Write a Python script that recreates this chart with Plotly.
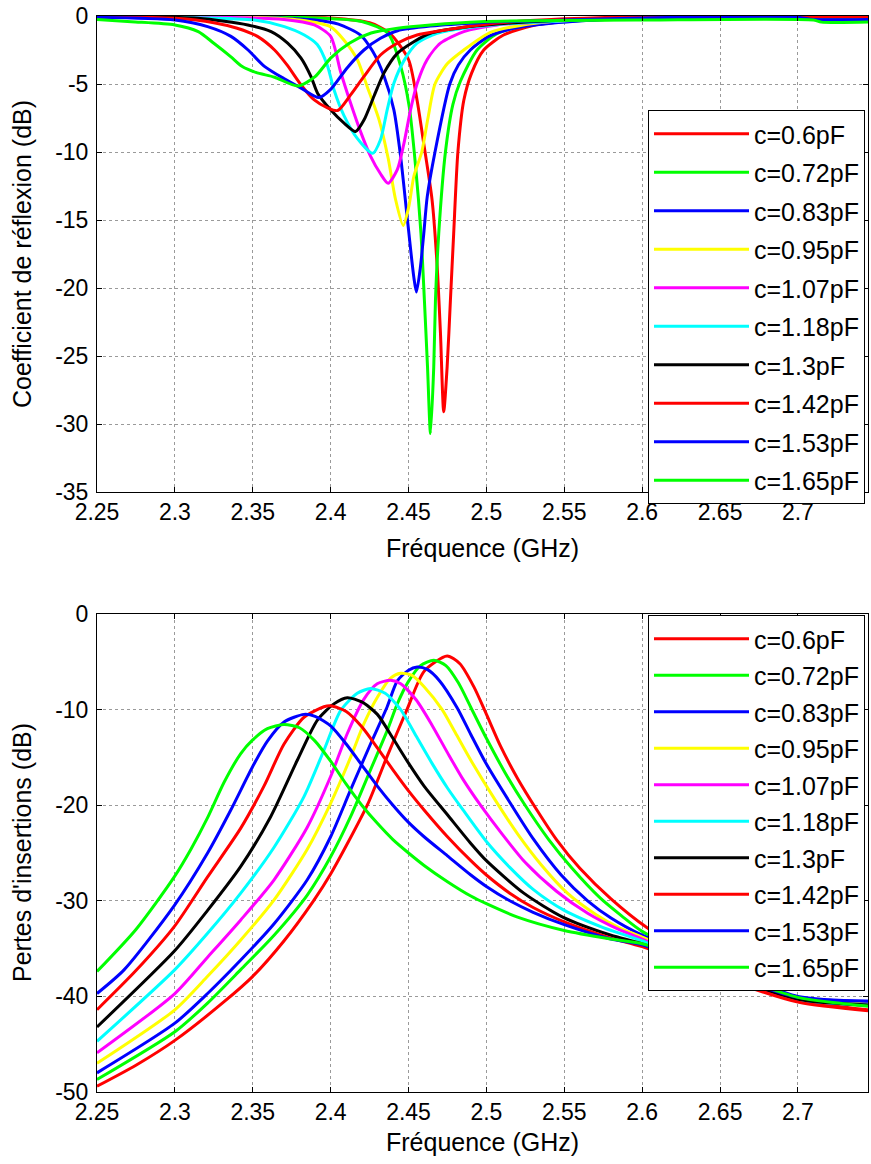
import plotly.graph_objects as go

# ---------------- labels / colours ----------------
labels = ["c=0.6pF", "c=0.72pF", "c=0.83pF", "c=0.95pF", "c=1.07pF",
          "c=1.18pF", "c=1.3pF", "c=1.42pF", "c=1.53pF", "c=1.65pF"]
colors = ["#ff0000", "#00ff00", "#0000ff", "#ffff00", "#ff00ff",
          "#00ffff", "#000000", "#ff0000", "#0000ff", "#00ff00"]

x_tickvals = [2.25, 2.3, 2.35, 2.4, 2.45, 2.5, 2.55, 2.6, 2.65, 2.7]
x_ticktext = ["2.25", "2.3", "2.35", "2.4", "2.45", "2.5", "2.55", "2.6", "2.65", "2.7"]
y1_tickvals = [-35, -30, -25, -20, -15, -10, -5, 0]
y1_ticktext = ["-35", "-30", "-25", "-20", "-15", "-10", "-5", "0"]
y2_tickvals = [-50, -40, -30, -20, -10, 0]
y2_ticktext = ["-50", "-40", "-30", "-20", "-10", "0"]

# ---------------- reflection coefficient S11 (dB) ----------------
s11_f_060 = [2.25, 2.35, 2.40, 2.425, 2.438, 2.45, 2.4555, 2.4598, 2.4651, 2.4684, 2.4705, 2.4726,
             2.4748, 2.4769, 2.479, 2.4817, 2.4855, 2.4905, 2.4983, 2.511, 2.53, 2.56, 2.6, 2.745]
s11_db_060 = [-0.02, -0.05, -0.15, -0.5, -1.27, -3.2, -6.2, -9.4, -13.5, -18.4, -23.3, -29.1,
              -25.8, -20.9, -16.0, -10.0, -6.2, -4.2, -2.5, -1.4, -0.7, -0.3, -0.05, -0.05]

s11_f_072 = [2.25, 2.38, 2.42, 2.437, 2.445, 2.4505, 2.4545, 2.458, 2.4602, 2.4622, 2.4641, 2.4662,
             2.4673, 2.4694, 2.4737, 2.4785, 2.4833, 2.494, 2.5068, 2.525, 2.56, 2.6, 2.745]
s11_db_072 = [-0.05, -0.1, -0.4, -1.3, -3.7, -6.7, -11.0, -16.0, -20.9, -25.8, -30.7, -25.8,
              -20.9, -16.0, -10.0, -6.5, -4.8, -2.5, -1.3, -0.7, -0.35, -0.2, -0.1]

s11_f_083 = [2.25, 2.35, 2.39, 2.405, 2.4192, 2.427, 2.4342, 2.4406, 2.4449, 2.4491, 2.4534, 2.4551,
             2.4577, 2.4598, 2.462, 2.467, 2.4765, 2.482, 2.4897, 2.5015, 2.5175, 2.54, 2.57, 2.62, 2.745]
s11_db_083 = [-0.02, -0.1, -0.3, -0.6, -1.4, -2.6, -4.4, -6.9, -10.3, -14.75, -19.2, -20.3,
              -18.4, -16.0, -13.3, -10.0, -5.0, -3.6, -2.5, -1.5, -0.9, -0.55, -0.3, -0.1, -0.05]

s11_f_095 = [2.25, 2.35, 2.38, 2.40, 2.4085, 2.4171, 2.4235, 2.431, 2.437, 2.4415, 2.4466, 2.4502,
             2.4534, 2.4585, 2.4625, 2.467, 2.475, 2.4855, 2.5026, 2.53, 2.56, 2.6, 2.745]
s11_db_095 = [-0.05, -0.1, -0.3, -0.8, -1.76, -3.2, -5.2, -7.6, -10.5, -13.4, -15.4, -14.0,
              -11.8, -10.0, -7.5, -5.0, -3.5, -2.5, -1.2, -0.55, -0.25, -0.1, -0.05]

s11_f_107 = [2.25, 2.37, 2.3895, 2.40, 2.4064, 2.4128, 2.4192, 2.4256, 2.432, 2.4369, 2.4428, 2.447,
             2.4513, 2.4556, 2.462, 2.4705, 2.4855, 2.507, 2.528, 2.56, 2.6, 2.745]
s11_db_107 = [-0.02, -0.25, -0.66, -1.5, -4.1, -6.4, -8.5, -10.3, -11.6, -12.3, -11.3, -9.4,
              -6.9, -4.95, -3.2, -2.0, -1.15, -0.66, -0.49, -0.3, -0.1, -0.05]

s11_f_118 = [2.25, 2.351, 2.3703, 2.3831, 2.3914, 2.3978, 2.4021, 2.4085, 2.4171, 2.4270, 2.432,
             2.4363, 2.4406, 2.447, 2.4555, 2.4684, 2.4855, 2.507, 2.528, 2.56, 2.6, 2.745]
s11_db_118 = [-0.05, -0.3, -0.78, -1.4, -2.1, -3.6, -5.4, -7.3, -9.0, -10.1, -9.1,
              -6.9, -4.95, -3.3, -2.0, -1.27, -0.9, -0.62, -0.47, -0.3, -0.1, -0.05]

s11_f_130 = [2.25, 2.3147, 2.3468, 2.3618, 2.3724, 2.381, 2.3874, 2.3917, 2.40, 2.4088, 2.416, 2.4214,
             2.4278, 2.4342, 2.4428, 2.4534, 2.464, 2.4855, 2.5069, 2.528, 2.56, 2.6, 2.745]
s11_db_130 = [-0.05, -0.17, -0.66, -1.15, -2.0, -3.1, -4.46, -5.7, -6.9, -7.9, -8.5, -7.65,
              -5.9, -4.2, -2.75, -1.89, -1.27, -0.83, -0.59, -0.42, -0.25, -0.1, -0.05]

s11_f_142 = [2.25, 2.30, 2.325, 2.34, 2.353, 2.364, 2.372, 2.381, 2.3895, 2.398, 2.4045, 2.4128,
             2.4213, 2.432, 2.4428, 2.4555, 2.4705, 2.496, 2.528, 2.6, 2.745]
s11_db_142 = [-0.05, -0.17, -0.49, -0.9, -1.5, -2.5, -3.6, -5.07, -6.17, -6.75, -6.95, -5.8,
              -4.46, -2.87, -2.0, -1.4, -1.08, -0.66, -0.34, -0.05, -0.05]

s11_f_153 = [2.25, 2.30, 2.321, 2.336, 2.347, 2.3575, 2.37, 2.381, 2.3925, 2.40, 2.4107, 2.4214,
             2.432, 2.443, 2.464, 2.496, 2.55, 2.62, 2.70, 2.71, 2.745]
s11_db_153 = [-0.1, -0.3, -0.78, -1.5, -2.5, -3.7, -4.6, -5.3, -6.0, -5.4, -3.8, -2.5,
              -1.64, -1.08, -0.74, -0.49, -0.3, -0.1, -0.1, -0.25, -0.25]

s11_f_165 = [2.25, 2.272, 2.30, 2.315, 2.325, 2.336, 2.343, 2.352, 2.364, 2.379, 2.39, 2.40,
             2.412, 2.426, 2.443, 2.464, 2.496, 2.60, 2.71, 2.715, 2.745]
s11_db_165 = [-0.25, -0.42, -0.66, -1.15, -2.0, -3.0, -3.7, -4.15, -4.5, -5.15, -4.46, -3.1,
              -2.0, -1.25, -0.9, -0.66, -0.42, -0.3, -0.3, -0.45, -0.45]

# ---------------- insertion loss S21 (dB) ----------------
s21_f_060 = [2.25, 2.275, 2.30, 2.332, 2.35, 2.37, 2.389, 2.40, 2.4235, 2.436, 2.449, 2.46, 2.4748,
             2.483, 2.4919, 2.4995, 2.509, 2.52, 2.532, 2.545, 2.56, 2.58, 2.603, 2.65, 2.70, 2.745]
s21_db_060 = [-49.4, -47.2, -44.6, -40.5, -37.9, -34.2, -30.0, -27.2, -20.0, -15.0, -10.0, -6.0, -4.4,
              -5.2, -7.6, -10.3, -13.8, -17.2, -20.4, -23.6, -26.6, -29.8, -32.8, -37.5, -40.4, -41.4]

s21_f_072 = [2.25, 2.30, 2.321, 2.3423, 2.3637, 2.385, 2.40, 2.4128, 2.4256, 2.4363, 2.4428, 2.4498,
             2.4577, 2.4662, 2.474, 2.482, 2.4898, 2.50, 2.512, 2.524, 2.54, 2.555, 2.573, 2.587,
             2.60, 2.65, 2.70, 2.745]
s21_db_072 = [-48.7, -43.7, -40.7, -37.2, -33.6, -29.4, -25.4, -21.2, -16.3, -12.2, -9.4, -7.1,
              -5.4, -4.85, -5.4, -7.2, -9.7, -13.0, -16.6, -19.8, -23.6, -26.6, -29.7, -31.6,
              -33.2, -37.3, -40.2, -41.0]

s21_f_083 = [2.25, 2.30, 2.321, 2.3423, 2.3637, 2.385, 2.40, 2.4128, 2.4256, 2.4363, 2.4428, 2.4498,
             2.4556, 2.462, 2.47, 2.4812, 2.49, 2.50, 2.5154, 2.53, 2.548, 2.565, 2.58, 2.60,
             2.65, 2.70, 2.745]
s21_db_083 = [-48.0, -42.8, -39.7, -36.2, -32.4, -27.8, -23.3, -18.4, -13.6, -9.7, -7.0, -5.9,
              -5.55, -5.8, -7.0, -9.8, -12.6, -15.7, -19.8, -23.5, -27.3, -30.0, -31.8, -33.6,
              -37.0, -40.0, -40.5]

s21_f_095 = [2.25, 2.30, 2.321, 2.3423, 2.3637, 2.385, 2.40, 2.4128, 2.4213, 2.43, 2.4385, 2.4449,
             2.452, 2.46, 2.4716, 2.48, 2.49, 2.5058, 2.52, 2.535, 2.552, 2.57, 2.585, 2.60,
             2.65, 2.70, 2.745]
s21_db_095 = [-47.0, -41.4, -37.9, -34.1, -29.9, -24.6, -19.8, -15.0, -11.5, -8.7, -6.7, -6.2,
              -6.4, -7.6, -10.0, -12.4, -15.3, -19.5, -23.0, -26.2, -29.2, -31.4, -32.8, -33.8,
              -37.3, -40.2, -40.8]

s21_f_107 = [2.25, 2.30, 2.321, 2.3423, 2.3637, 2.385, 2.40, 2.4107, 2.4214, 2.4299, 2.4385, 2.445,
             2.455, 2.465, 2.475, 2.485, 2.4962, 2.51, 2.525, 2.545, 2.565, 2.585, 2.60,
             2.65, 2.70, 2.745]
s21_db_107 = [-45.9, -39.7, -35.9, -32.0, -27.8, -22.3, -17.0, -12.5, -8.9, -7.3, -6.94, -7.3,
              -9.0, -11.6, -14.5, -17.3, -20.0, -23.0, -26.0, -29.0, -31.3, -33.0, -34.0,
              -37.5, -40.3, -40.9]

s21_f_118 = [2.25, 2.30, 2.321, 2.3423, 2.3637, 2.3829, 2.3957, 2.4064, 2.4171, 2.4256, 2.435, 2.445,
             2.455, 2.465, 2.475, 2.485, 2.50, 2.515, 2.53, 2.55, 2.575, 2.60,
             2.65, 2.70, 2.745]
s21_db_118 = [-44.7, -37.2, -33.4, -29.2, -24.4, -19.1, -14.25, -10.1, -8.3, -7.8, -8.3, -10.0,
              -12.8, -15.6, -18.2, -20.5, -23.8, -26.5, -28.8, -31.0, -32.8, -34.2,
              -37.5, -40.3, -40.9]

s21_f_130 = [2.25, 2.30, 2.321, 2.3423, 2.3615, 2.3786, 2.3915, 2.4021, 2.4107, 2.42, 2.43, 2.44,
             2.45, 2.46, 2.475, 2.49, 2.50, 2.524, 2.549, 2.58, 2.60, 2.65, 2.70, 2.745]
s21_db_130 = [-43.2, -35.2, -31.0, -26.4, -21.2, -15.3, -11.1, -9.4, -8.75, -9.2, -10.5, -13.0,
              -15.6, -18.0, -21.0, -24.0, -25.8, -29.2, -31.7, -33.6, -34.5, -37.6, -40.3, -40.9]

s21_f_142 = [2.25, 2.275, 2.2996, 2.321, 2.3423, 2.3572, 2.3701, 2.3829, 2.3957, 2.40, 2.41, 2.42,
             2.43, 2.44, 2.45, 2.46, 2.475, 2.49, 2.50, 2.515, 2.53, 2.55, 2.58, 2.60,
             2.65, 2.70, 2.745]
s21_db_142 = [-41.4, -37.3, -32.7, -27.5, -22.4, -18.0, -13.6, -10.8, -9.7, -9.6, -10.2, -11.8,
              -14.0, -16.3, -18.5, -20.5, -23.3, -25.8, -27.3, -29.2, -30.7, -32.2, -33.9, -34.8,
              -38.0, -40.6, -41.5]

s21_f_153 = [2.25, 2.2675, 2.2996, 2.321, 2.3359, 2.3498, 2.3594, 2.3701, 2.3829, 2.39, 2.40, 2.41,
             2.42, 2.43, 2.44, 2.45, 2.46, 2.475, 2.49, 2.50, 2.515, 2.53, 2.55, 2.58, 2.60,
             2.65, 2.70, 2.745]
s21_db_153 = [-39.7, -37.2, -30.5, -25.0, -20.5, -16.0, -13.3, -11.3, -10.5, -10.7, -11.7, -13.6,
              -15.8, -18.0, -20.0, -21.8, -23.3, -25.3, -27.3, -28.5, -30.0, -31.2, -32.5, -34.0, -34.6,
              -37.5, -40.1, -40.5]

s21_f_165 = [2.25, 2.275, 2.2996, 2.3103, 2.321, 2.3316, 2.3423, 2.3498, 2.3594, 2.3701, 2.38, 2.39,
             2.40, 2.41, 2.42, 2.43, 2.44, 2.45, 2.46, 2.475, 2.49, 2.50, 2.52, 2.55, 2.58, 2.60,
             2.65, 2.70, 2.745]
s21_db_165 = [-37.4, -33.0, -27.5, -24.6, -21.3, -17.6, -14.6, -13.2, -12.0, -11.57, -11.9, -13.3,
              -15.4, -17.8, -20.0, -21.9, -23.6, -25.0, -26.3, -28.0, -29.5, -30.3, -31.7, -33.1, -34.0, -34.5,
              -37.3, -40.1, -41.0]

s11_f = [s11_f_060, s11_f_072, s11_f_083, s11_f_095, s11_f_107, s11_f_118, s11_f_130, s11_f_142, s11_f_153, s11_f_165]
s11_db = [s11_db_060, s11_db_072, s11_db_083, s11_db_095, s11_db_107, s11_db_118, s11_db_130, s11_db_142, s11_db_153, s11_db_165]
s21_f = [s21_f_060, s21_f_072, s21_f_083, s21_f_095, s21_f_107, s21_f_118, s21_f_130, s21_f_142, s21_f_153, s21_f_165]
s21_db = [s21_db_060, s21_db_072, s21_db_083, s21_db_095, s21_db_107, s21_db_118, s21_db_130, s21_db_142, s21_db_153, s21_db_165]

FONT = "Liberation Sans, Arial, Helvetica, sans-serif"
W, H = 871, 1164


def px(x):
    return x / W


def py(y):
    return 1 - y / H


fig = go.Figure()
for i in range(10):
    fig.add_trace(go.Scatter(
        x=s11_f[i], y=s11_db[i], mode="lines", name=labels[i],
        line=dict(color=colors[i], width=3, shape="spline", smoothing=0.7),
        xaxis="x", yaxis="y", legend="legend", legendgroup="a%d" % i))
for i in range(10):
    fig.add_trace(go.Scatter(
        x=s21_f[i], y=s21_db[i], mode="lines", name=labels[i],
        line=dict(color=colors[i], width=3, shape="spline", smoothing=0.7),
        xaxis="x2", yaxis="y2", legend="legend2", legendgroup="b%d" % i))

xdom = [px(97), px(868)]
y1dom = [py(492), py(16)]
y2dom = [py(1092), py(614)]

axis_common = dict(
    showline=True, linecolor="black", linewidth=1, mirror="ticks",
    ticks="inside", ticklen=5, tickcolor="black", automargin=False,
    showgrid=True, gridcolor="#9a9a9a", griddash="dot", gridwidth=1,
    zeroline=False, tickfont=dict(family=FONT, size=23, color="black"),
)

fig.update_layout(
    width=W, height=H, margin=dict(l=0, r=0, t=0, b=0, autoexpand=False),
    paper_bgcolor="white", plot_bgcolor="white",
    font=dict(family=FONT, color="black"),
    xaxis=dict(domain=xdom, anchor="y", range=[2.25, 2.745], ticklabelstandoff=-1,
               tickvals=x_tickvals, ticktext=x_ticktext, **axis_common),
    yaxis=dict(domain=y1dom, anchor="x", range=[-35, 0], ticklabelstandoff=3,
               tickvals=y1_tickvals, ticktext=y1_ticktext, **axis_common),
    xaxis2=dict(domain=xdom, anchor="y2", range=[2.25, 2.745], ticklabelstandoff=-1,
                tickvals=x_tickvals, ticktext=x_ticktext, **axis_common),
    yaxis2=dict(domain=y2dom, anchor="x2", range=[-50, 0], ticklabelstandoff=3,
                tickvals=y2_tickvals, ticktext=y2_ticktext, **axis_common),
    legend=dict(x=px(648), y=py(110), xanchor="left", yanchor="top",
                bgcolor="white", bordercolor="black", borderwidth=1,
                font=dict(family=FONT, size=25, color="black"),
                itemwidth=95, tracegroupgap=3, traceorder="grouped"),
    legend2=dict(x=px(648), y=py(615), xanchor="left", yanchor="top",
                 bgcolor="white", bordercolor="black", borderwidth=1,
                 font=dict(family=FONT, size=25, color="black"),
                 itemwidth=95, tracegroupgap=1, traceorder="grouped"),
    showlegend=True,
)

title_font = dict(family=FONT, size=25, color="black")
ann = dict(xref="paper", yref="paper", showarrow=False, xanchor="center", yanchor="middle",
           font=title_font)
fig.add_annotation(text="Coefficient de réflexion (dB)", x=px(22), y=py(254), textangle=-90, **ann)
fig.add_annotation(text="Pertes d'insertions (dB)", x=px(22), y=py(853), textangle=-90, **ann)
fig.add_annotation(text="Fréquence (GHz)", x=px(482), y=py(548), **ann)
fig.add_annotation(text="Fréquence (GHz)", x=px(482), y=py(1142), **ann)

# remove the default 8px page margin so the figure fills the window exactly
fig.write_html("out.html", config={"displayModeBar": False},
               post_script="document.body.style.margin='0';document.body.style.overflow='hidden';")
